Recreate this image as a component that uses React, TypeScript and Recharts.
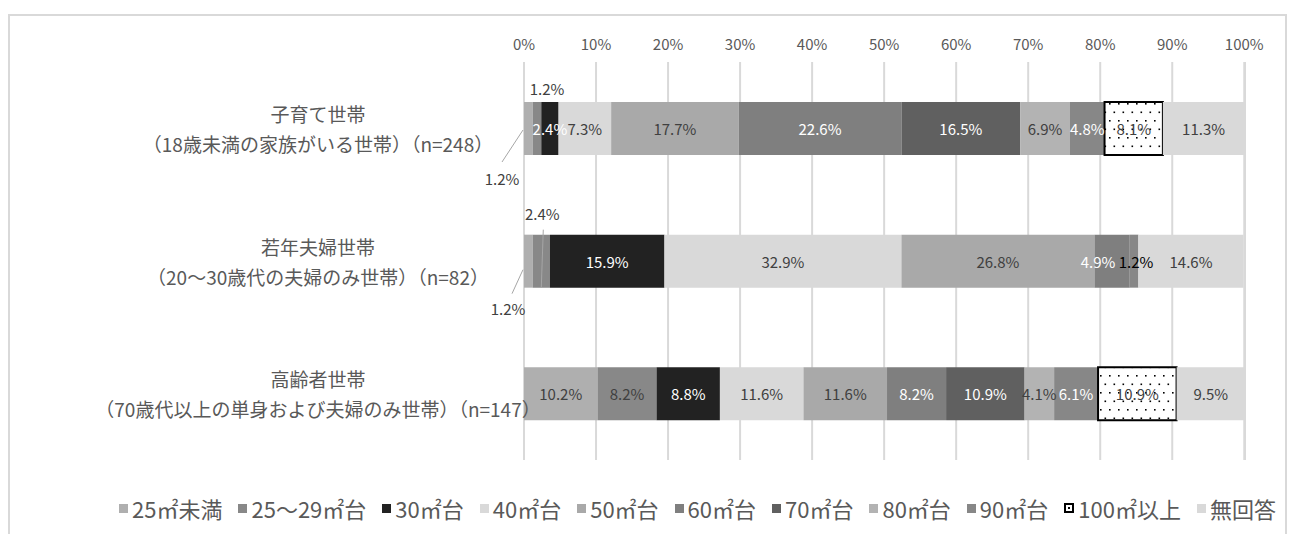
import { Bar, BarChart, CartesianGrid, LabelList, Legend, XAxis, YAxis } from "recharts";

const FONT = '"Noto Sans CJK JP", "Noto Sans", sans-serif';

const categories = ["子育て世帯", "若年夫婦世帯", "高齢者世帯"];
const subtitles = [
  "（18歳未満の家族がいる世帯）（n=248）",
  "（20～30歳代の夫婦のみ世帯）（n=82）",
  "（70歳代以上の単身および夫婦のみ世帯）（n=147）",
];

const seriesNames = [
  "25㎡未満",
  "25～29㎡台",
  "30㎡台",
  "40㎡台",
  "50㎡台",
  "60㎡台",
  "70㎡台",
  "80㎡台",
  "90㎡台",
  "100㎡以上",
  "無回答",
];

// one array per size band, in category order
const under25 = [1.2, 1.2, 10.2];
const from25to29 = [1.2, 2.4, 8.2];
const size30s = [2.4, 15.9, 8.8];
const size40s = [7.3, 32.9, 11.6];
const size50s = [17.7, 26.8, 11.6];
const size60s = [22.6, 4.9, 8.2];
const size70s = [16.5, 0, 10.9];
const size80s = [6.9, 0, 4.1];
const size90s = [4.8, 1.2, 6.1];
const over100 = [8.1, 0, 10.9];
const noAnswer = [11.3, 14.6, 9.5];

const seriesValues = [
  under25,
  from25to29,
  size30s,
  size40s,
  size50s,
  size60s,
  size70s,
  size80s,
  size90s,
  over100,
  noAnswer,
];

const xTicks = [0, 10, 20, 30, 40, 50, 60, 70, 80, 90, 100];

const COLORS = [
  "#afafaf",
  "#888888",
  "#222222",
  "#d9d9d9",
  "#a9a9a9",
  "#7f7f7f",
  "#606060",
  "#b3b3b3",
  "#878787",
  "url(#dots)",
  "#d9d9d9",
];
const LABEL_COLORS = [
  "#404040",
  "#404040",
  "#ffffff",
  "#404040",
  "#404040",
  "#ffffff",
  "#ffffff",
  "#404040",
  "#ffffff",
  "#404040",
  "#404040",
];

const data = categories.map((name, i) => {
  const row: Record<string, string | number> = { name, sub: subtitles[i] };
  seriesNames.forEach((s, k) => {
    row["s" + k] = seriesValues[k][i];
  });
  return row;
});

const fmt = (v: number) => v.toFixed(1) + "%";

function makeLabel(k: number) {
  return (props: any) => {
    const { value, index } = props;
    const x = Number(props.x);
    const y = Number(props.y);
    const w = Number(props.width);
    const h = Number(props.height);
    if (!value) return null;
    const cx = x + w / 2;
    const textProps = {
      fontSize: 15,
      fontFamily: FONT,
      dominantBaseline: "central" as const,
      textAnchor: "middle" as const,
    };
    // small slices at the left edge get outside labels
    if (k === 0 && index === 0) {
      return (
        <g>
          <line x1={x - 1} y1={y + 28} x2={x - 22} y2={y + 60} stroke="#a6a6a6" />
          <text x={x - 22} y={y + 76} fill="#404040" {...textProps}>
            {fmt(value)}
          </text>
        </g>
      );
    }
    if (k === 1 && index === 0) {
      return (
        <text x={cx + 10} y={y - 14} fill="#404040" {...textProps}>
          {fmt(value)}
        </text>
      );
    }
    if (k === 0 && index === 1) {
      return (
        <g>
          <line x1={x - 1} y1={y + 35} x2={x - 12} y2={y + 59} stroke="#a6a6a6" />
          <text x={x - 16} y={y + 74} fill="#404040" {...textProps}>
            {fmt(value)}
          </text>
        </g>
      );
    }
    if (k === 1 && index === 1) {
      return (
        <g>
          <line x1={cx + 2} y1={y - 5} x2={cx} y2={y + h} stroke="#a6a6a6" />
          <text x={cx + 1} y={y - 21} fill="#404040" {...textProps}>
            {fmt(value)}
          </text>
        </g>
      );
    }
    // the two narrow slices of the middle row are pushed apart
    let shift = 0;
    if (index === 1 && k === 5) shift = -14;
    if (index === 1 && k === 8) shift = 2;
    const fill = value < 2 ? "#000000" : LABEL_COLORS[k];
    return (
      <text x={cx + shift} y={y + h / 2} fill={fill} {...textProps}>
        {fmt(value)}
      </text>
    );
  };
}

function CategoryTick(props: any) {
  const { y, index } = props;
  const i = typeof index === "number" ? index : categories.indexOf(props.payload?.value);
  return (
    <g fontFamily={FONT} fontSize={19} fill="#595959">
      <text x={308} y={y - 15} textAnchor="middle" dominantBaseline="central">
        {categories[i]}
      </text>
      <text x={308} y={y + 15} textAnchor="middle" dominantBaseline="central">
        {subtitles[i]}
      </text>
    </g>
  );
}

function PercentTick(props: any) {
  const { x, payload } = props;
  return (
    <text
      x={x}
      y={27}
      textAnchor="middle"
      dominantBaseline="central"
      fontFamily={FONT}
      fontSize={15}
      fill="#595959"
    >
      {payload.value}%
    </text>
  );
}

function LegendContent() {
  return (
    <div
      style={{
        display: "flex",
        justifyContent: "center",
        alignItems: "center",
        fontFamily: FONT,
        fontSize: 22,
        color: "#595959",
        lineHeight: "28px",
        whiteSpace: "nowrap",
      }}
    >
      {seriesNames.map((name, k) => (
        <span
          key={name}
          style={{ display: "inline-flex", alignItems: "center", marginRight: k < seriesNames.length - 1 ? 16 : 0 }}
        >
          {k === 9 ? (
            <span
              style={{
                width: 6,
                height: 6,
                border: "2px solid #000",
                background: "#fff",
                marginRight: 4,
                position: "relative",
                display: "inline-block",
              }}
            >
              <span
                style={{
                  position: "absolute",
                  left: 2,
                  top: 2,
                  width: 2,
                  height: 2,
                  background: "#000",
                }}
              />
            </span>
          ) : (
            <span
              style={{
                width: 9,
                height: 9,
                background: COLORS[k],
                marginRight: 4,
                display: "inline-block",
              }}
            />
          )}
          {name}
        </span>
      ))}
    </div>
  );
}

export default function App() {
  return (
    <div style={{ paddingTop: 6 }}>
      <div
        style={{
          width: 1275,
          height: 530,
          border: "2px solid #d9d9d9",
          background: "#fff",
        }}
      >
        <BarChart
          width={1275}
          height={518}
          data={data}
          layout="vertical"
          barSize={53}
          margin={{ top: 10, right: 40, left: 0, bottom: 74 }}
        >
          <defs>
            <pattern id="dots" width="9" height="17" patternUnits="userSpaceOnUse">
              <rect width="9" height="17" fill="#ffffff" />
              <rect x="1" y="2" width="1.6" height="1.6" fill="#000" />
              <rect x="5.5" y="10.5" width="1.6" height="1.6" fill="#000" />
            </pattern>
          </defs>
          <CartesianGrid horizontal={false} stroke="#d9d9d9" strokeWidth={2} />
          <XAxis
            type="number"
            orientation="top"
            domain={[0, 100]}
            ticks={xTicks}
            height={36}
            axisLine={false}
            tickLine={false}
            tick={<PercentTick />}
            interval={0}
          />
          <YAxis
            type="category"
            dataKey="name"
            width={514}
            axisLine={false}
            tickLine={false}
            tick={<CategoryTick />}
            interval={0}
          />
          <Legend
            verticalAlign="middle"
            content={<LegendContent />}
            wrapperStyle={{ top: 478, left: 50, width: 1275 }}
          />
          {seriesNames.map((name, k) => (
            <Bar
              key={name}
              dataKey={"s" + k}
              name={name}
              stackId="a"
              fill={COLORS[k]}
              stroke={k === 9 ? "#000000" : undefined}
              strokeWidth={k === 9 ? 2 : 0}
              isAnimationActive={false}
            >
              <LabelList dataKey={"s" + k} content={makeLabel(k)} />
            </Bar>
          ))}
        </BarChart>
      </div>
    </div>
  );
}
